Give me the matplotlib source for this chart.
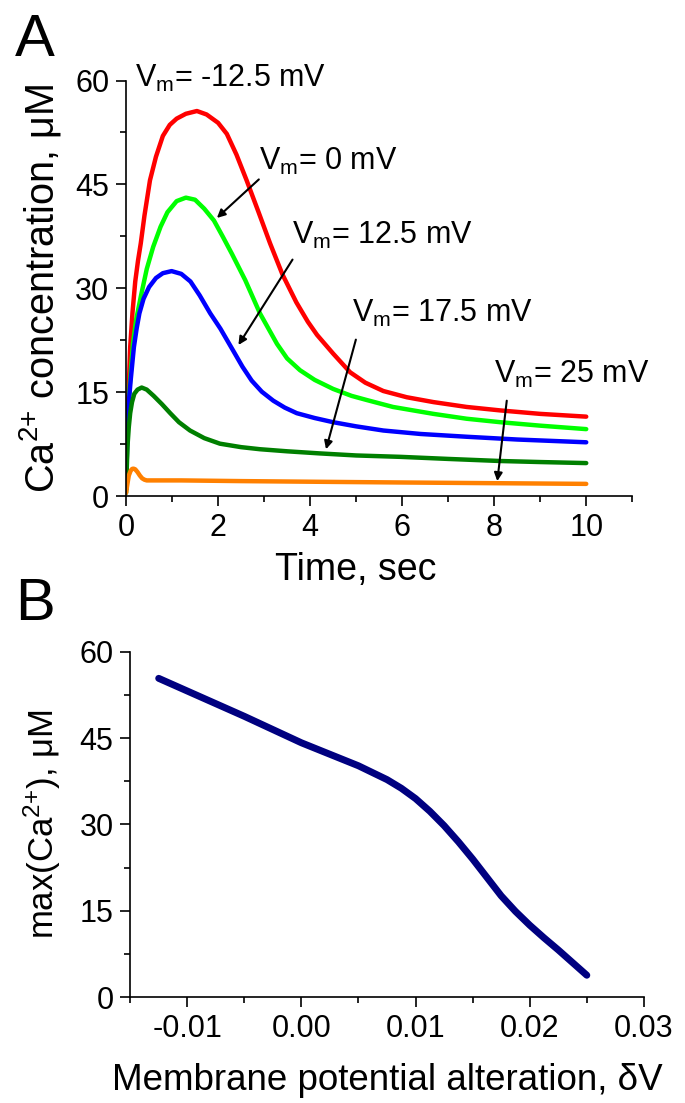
import numpy as np
import matplotlib
matplotlib.use('Agg')
import matplotlib.pyplot as plt
from matplotlib.ticker import MultipleLocator

plt.rcParams['font.family'] = ['Liberation Sans', 'DejaVu Sans']
plt.rcParams['mathtext.fontset'] = 'custom'
plt.rcParams['mathtext.rm'] = 'Liberation Sans'
plt.rcParams['mathtext.it'] = 'Liberation Sans:italic'

# Panel A: Ca2+ transients for different membrane potentials
t_red = [0, 0.02, 0.05, 0.09, 0.14, 0.2, 0.26, 0.32, 0.4, 0.52, 0.65, 0.8, 0.95, 1.1, 1.3, 1.54,
         1.75, 2.0, 2.19, 2.4, 2.62, 2.88, 3.13, 3.4, 3.7, 3.95, 4.15, 4.5, 4.87, 5.2, 5.59,
         6.1, 6.68, 7.4, 8.13, 9.0, 10]
c_red = [1, 8, 14, 21.5, 26.5, 31, 34, 36.5, 40.5, 45.6, 49, 52.0, 53.6, 54.5, 55.2, 55.6,
         55.1, 53.9, 52.3, 49.3, 45.6, 41, 36.5, 32.0, 28.0, 25.2, 23.3, 20.6, 17.9, 16.4, 15.2,
         14.3, 13.6, 12.9, 12.4, 11.9, 11.5]

t_green = [0, 0.03, 0.08, 0.15, 0.22, 0.32, 0.45, 0.59, 0.75, 0.9, 1.1, 1.3, 1.5, 1.7, 1.91,
           2.1, 2.3, 2.59, 2.91, 3.28, 3.5, 3.78, 4.1, 4.5, 4.9, 5.23, 5.8, 6.68, 7.4, 8.13, 9.0, 10]
c_green = [1, 9, 16, 22, 25.5, 28.8, 32.8, 36, 38.9, 41, 42.6, 43.1, 42.8, 41.5, 39.8,
           37.5, 35, 31.2, 26.4, 22.0, 19.9, 18.2, 16.8, 15.5, 14.5, 13.9, 12.9, 11.9, 11.2, 10.7, 10.2, 9.7]

t_blue = [0, 0.04, 0.1, 0.17, 0.23, 0.29, 0.38, 0.5, 0.65, 0.8, 0.99, 1.2, 1.4, 1.6, 1.83,
          2.05, 2.33, 2.53, 2.73, 2.95, 3.2, 3.45, 3.71, 4.1, 4.5, 5.0, 5.59, 6.4, 7.4, 8.5, 10]
c_blue = [1, 12, 16.7, 21.5, 24.2, 26.4, 28.5, 30.2, 31.5, 32.2, 32.5, 32.1, 31, 29.0, 26.4,
          24.2, 21.0, 18.7, 16.7, 15.1, 13.8, 12.8, 12.0, 11.3, 10.7, 10.1, 9.5, 9.0, 8.6, 8.2, 7.8]

t_dkgreen = [0, 0.03, 0.06, 0.09, 0.13, 0.18, 0.25, 0.34, 0.45, 0.6, 0.78, 0.96, 1.15, 1.39,
             1.7, 2.04, 2.5, 2.91, 3.5, 4.2, 5.0, 5.96, 7.0, 8.13, 9.0, 10]
c_dkgreen = [0.5, 7.1, 10, 12, 13.6, 14.8, 15.4, 15.7, 15.4, 14.5, 13.3, 12.0, 10.7, 9.5,
             8.4, 7.6, 7.1, 6.8, 6.5, 6.2, 5.9, 5.7, 5.4, 5.1, 4.95, 4.8]

t_orange = [0, 0.03, 0.06, 0.1, 0.13, 0.16, 0.2, 0.25, 0.3, 0.35, 0.4, 0.45, 0.6, 1.2, 2.5, 4.2, 6, 8, 10]
c_orange = [0.5, 1.8, 3.0, 3.7, 3.95, 4.0, 3.9, 3.5, 3.0, 2.6, 2.4, 2.3, 2.3, 2.3, 2.2, 2.1, 2.0, 1.9, 1.8]

# Panel B: peak Ca2+ vs membrane potential alteration
dv = [-0.0125, -0.01, -0.0075, -0.005, -0.0025, 0.0, 0.0025, 0.005, 0.0075, 0.00875, 0.01,
      0.01125, 0.0125, 0.01375, 0.015, 0.01625, 0.0175, 0.01875, 0.02, 0.02125, 0.0225,
      0.02375, 0.025]
ca_max = [55.4, 53.2, 51.0, 48.8, 46.5, 44.2, 42.2, 40.2, 37.8, 36.3, 34.5,
          32.3, 29.8, 27.0, 24.0, 20.8, 17.6, 14.9, 12.5, 10.3, 8.2,
          6.0, 3.8]

fig = plt.figure(figsize=(6.85, 11.03), dpi=100)
axA = fig.add_axes([0.184, 0.550, 0.739, 0.377])
axB = fig.add_axes([0.190, 0.096, 0.750, 0.313])

lw = 3.2
style = dict(solid_capstyle='round', solid_joinstyle='round')
axA.plot(t_red, c_red, color='#ff0000', lw=lw, **style)
axA.plot(t_green, c_green, color='#00ff00', lw=lw, **style)
axA.plot(t_blue, c_blue, color='#0000ff', lw=lw, **style)
axA.plot(t_dkgreen, c_dkgreen, color='#007f00', lw=lw, **style)
axA.plot(t_orange, c_orange, color='#ff8000', lw=lw, **style)

axB.plot(dv, ca_max, color='#000080', lw=5, **style)

for ax in (axA, axB):
    ax.spines['top'].set_visible(False)
    ax.spines['right'].set_visible(False)
    ax.spines['left'].set_linewidth(1.2)
    ax.spines['bottom'].set_linewidth(1.2)
    ax.tick_params(which='major', direction='out', length=7, width=1.2, labelsize=22, pad=5)
    ax.tick_params(which='minor', direction='out', length=4, width=1.2)
    ax.set_ylim(0, 60)
    ax.yaxis.set_major_locator(MultipleLocator(15))
    ax.yaxis.set_minor_locator(MultipleLocator(7.5))

axA.set_xlim(0, 11)
axA.set_xticks([0, 2, 4, 6, 8, 10])
axA.xaxis.set_minor_locator(MultipleLocator(1))
axA.set_xlabel('Time, sec', fontsize=27)
axA.xaxis.set_label_coords(5 / 11, -0.135)
axA.set_ylabel('Ca$^{2{+}}$ concentration, \u03bcM', fontsize=28.5, labelpad=9)

axB.set_xlim(-0.015, 0.03)
axB.set_xticks([-0.01, 0.0, 0.01, 0.02, 0.03])
axB.set_xticklabels(['-0.01', '0.00', '0.01', '0.02', '0.03'])
axB.xaxis.set_minor_locator(MultipleLocator(0.005))
axB.set_xlabel('Membrane potential alteration, \u03b4V', fontsize=26.5, labelpad=14)
axB.set_ylabel('max(Ca$^{2{+}}$), \u03bcM', fontsize=25, labelpad=12)

# annotations
vm = r'$\mathregular{V_m}$'
fs = 22
axA.text(0.2, 60.3, vm + '= -12.5 mV', fontsize=fs, va='center', clip_on=False)
axA.text(2.9, 48.3, vm + '= 0 mV', fontsize=fs, va='center')
axA.text(3.6, 37.7, vm + '= 12.5 mV', fontsize=fs, va='center')
axA.text(4.9, 26.4, vm + '= 17.5 mV', fontsize=fs, va='center')
axA.text(8.0, 17.6, vm + '= 25 mV', fontsize=fs, va='center')

arrow = dict(arrowstyle='-|>', color='black', lw=1.5, mutation_scale=12)
axA.annotate('', xy=(1.93, 39.9), xytext=(2.93, 46.0), arrowprops=arrow)
axA.annotate('', xy=(2.41, 21.5), xytext=(3.65, 34.5), arrowprops=arrow)
axA.annotate('', xy=(4.33, 6.4), xytext=(5.01, 23.0), arrowprops=arrow)
axA.annotate('', xy=(8.06, 1.8), xytext=(8.28, 14.2), arrowprops=arrow)

fig.text(0.022, 0.988, 'A', fontsize=43, va='top')
fig.text(0.022, 0.477, 'B', fontsize=43, va='top')

fig.savefig('out.png', dpi=100)
